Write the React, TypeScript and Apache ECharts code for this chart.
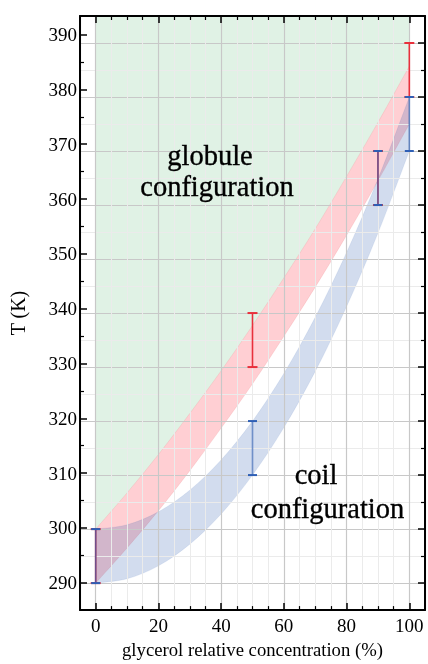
import React, { useEffect, useRef } from 'react';
import * as echarts from 'echarts';

// glycerol relative concentration (%) sample positions along the bands
const concentration = [0, 10, 20, 30, 40, 50, 60, 70, 80, 90, 100];
// globule / coil transition band (red)
const globuleLower = [290, 296.5, 303.4, 310.8, 318.7, 326.9, 335.7, 344.8, 354.4, 364.5, 375.0];
const globuleUpper = [300, 306.7, 313.8, 321.4, 329.3, 337.7, 346.5, 355.6, 365.3, 375.3, 385.7];
// coil band (blue)
const coilLower = [290, 290.8, 293.2, 297.2, 302.8, 310.0, 318.8, 329.2, 341.2, 354.8, 370.0];
const coilUpper = [300, 300.8, 303.2, 307.2, 312.8, 320.0, 328.8, 339.2, 351.2, 364.8, 380.0];

// error bars
const barX = [0, 50, 90, 100];
const globuleBarLow = [290, 330, 360, 380];
const globuleBarHigh = [300, 340, 370, 390];
const coilBarLow = [290, 310, 360, 370];
const coilBarHigh = [300, 320, 370, 380];

const SERIF = "'Liberation Serif', 'Times New Roman', Times, serif";

type P = number[];
function curveThrough(ctx: any, p: P[]) {
  for (let i = 0; i < p.length - 1; i++) {
    const p0 = p[i - 1] || p[i];
    const p1 = p[i];
    const p2 = p[i + 1];
    const p3 = p[i + 2] || p[i + 1];
    const c1x = p1[0] + (p2[0] - p0[0]) / 6;
    const c1y = p1[1] + (p2[1] - p0[1]) / 6;
    const c2x = p2[0] - (p3[0] - p1[0]) / 6;
    const c2y = p2[1] - (p3[1] - p1[1]) / 6;
    ctx.bezierCurveTo(c1x, c1y, c2x, c2y, p2[0], p2[1]);
  }
}

let registered = false;
function registerBand() {
  if (registered) return;
  registered = true;
  const Band = (echarts.graphic as any).extendShape({
    shape: { upper: [] as P[], lower: [] as P[] },
    buildPath(ctx: any, shape: any) {
      const up: P[] = shape.upper;
      const lo: P[] = shape.lower.slice().reverse();
      if (!up.length || !lo.length) return;
      ctx.moveTo(up[0][0], up[0][1]);
      curveThrough(ctx, up);
      ctx.lineTo(lo[0][0], lo[0][1]);
      curveThrough(ctx, lo);
      ctx.closePath();
    },
  });
  (echarts.graphic as any).registerShape('band', Band);
}

export default function App() {
  const ref = useRef<HTMLDivElement>(null);

  useEffect(() => {
    registerBand();
    const chart = echarts.init(ref.current as HTMLDivElement, null, { renderer: 'svg' });

    const bars = (lo: number[], hi: number[]) => barX.map((x, i) => [x, lo[i], hi[i]]);
    const bandData = (lo: number[], hi: number[]) => concentration.map((x, i) => [x, lo[i], hi[i]]);

    const axisLine = { show: true, onZero: false, lineStyle: { color: '#000', width: 2 } };
    const tick = { show: true, inside: true, length: 7, lineStyle: { color: '#000', width: 1.5 } };
    const minor = (n: number) => ({ show: true, splitNumber: n, length: 4, lineStyle: { color: '#000', width: 1.2 } });
    const majorGrid = { show: true, lineStyle: { color: '#c8c8c8', width: 1.2 } };
    const minorGrid = { show: true, lineStyle: { color: '#ebebeb', width: 1 } };
    const labelStyle = { fontSize: 19, color: '#000', fontFamily: SERIF };

    // band between lower/upper curves (mode 'band'), or from the curve up to the top of the plot (mode 'above')
    const bandRender = (lo: number[], hi: number[], fill: string, stroke: string, mode: 'band' | 'above') =>
      (params: any, api: any) => {
        if (params.dataIndex !== 0) return { type: 'group', children: [] };
        const upper: P[] = [];
        const lower: P[] = [];
        const top = params.coordSys.y;
        concentration.forEach((x, i) => {
          const u = api.coord([x, hi[i]]);
          if (mode === 'above') {
            lower.push(u);
            upper.push([u[0], top]);
          } else {
            upper.push(u);
            lower.push(api.coord([x, lo[i]]));
          }
        });
        if (mode === 'above') {
          return {
            type: 'band',
            shape: { upper: [upper[0], upper[upper.length - 1]], lower },
            style: { fill, stroke, lineWidth: 0.8 },
          };
        }
        return { type: 'band', shape: { upper, lower }, style: { fill, stroke, lineWidth: 0.8 } };
      };

    const errorRender = (lineColor: string, capColor: string, half: number) => (params: any, api: any) => {
      const x = api.value(0);
      const a = api.coord([x, api.value(1)]);
      const b = api.coord([x, api.value(2)]);
      return {
        type: 'group',
        children: [
          { type: 'line', shape: { x1: a[0], y1: a[1], x2: b[0], y2: b[1] }, style: { stroke: lineColor, lineWidth: 1.6 } },
          { type: 'line', shape: { x1: a[0] - half, y1: a[1], x2: a[0] + half, y2: a[1] }, style: { stroke: capColor, lineWidth: 2 } },
          { type: 'line', shape: { x1: b[0] - half, y1: b[1], x2: b[0] + half, y2: b[1] }, style: { stroke: capColor, lineWidth: 2 } },
        ],
      };
    };

    chart.setOption({
      animation: false,
      grid: { left: 79, top: 16, width: 348, height: 600, show: false },
      xAxis: [
        {
          type: 'value', min: -5, max: 105, splitNumber: 5, position: 'bottom', z: 3,
          axisLine, axisTick: tick, minorTick: minor(4),
          axisLabel: { ...labelStyle, margin: 6, formatter: (v: number) => (v % 20 === 0 ? String(v) : '') },
          splitLine: majorGrid, minorSplitLine: minorGrid,
          name: 'glycerol relative concentration (%)', nameLocation: 'middle', nameGap: 27,
          nameTextStyle: { ...labelStyle, fontSize: 18.7 },
        },
        {
          type: 'value', min: -5, max: 105, splitNumber: 5, position: 'top', z: 3,
          axisLine, axisTick: tick, minorTick: minor(4),
          axisLabel: { show: false }, splitLine: { show: false },
        },
      ],
      yAxis: [
        {
          type: 'value', min: 285, max: 395, splitNumber: 10, position: 'right', z: 3,
          axisLine, axisTick: tick, minorTick: minor(2),
          axisLabel: { show: false },
          splitLine: majorGrid, minorSplitLine: minorGrid,
        },
        {
          type: 'value', min: 285, max: 393.4, splitNumber: 10, position: 'left', z: 3,
          axisLine, axisTick: tick, minorTick: minor(2),
          axisLabel: { ...labelStyle, margin: 3, showMinLabel: false, showMaxLabel: false, formatter: (v: number) => (v % 10 === 0 ? String(v) : '') },
          splitLine: { show: false },
          name: 'T (K)', nameLocation: 'middle', nameGap: 52, nameRotate: 90,
          nameTextStyle: { ...labelStyle, fontSize: 20 },
        },
      ],
      series: [
        {
          type: 'custom', name: 'globule region', data: bandData(globuleLower, globuleUpper), encode: { x: 0, y: [1, 2] },
          renderItem: bandRender(globuleLower, globuleUpper, 'rgba(100,190,125,0.2)', 'rgba(100,190,125,0)', 'above'),
          z: 1, silent: true,
        },
        {
          type: 'custom', name: 'globule band', data: bandData(globuleLower, globuleUpper), encode: { x: 0, y: [1, 2] },
          renderItem: bandRender(globuleLower, globuleUpper, 'rgba(255,0,20,0.19)', 'rgba(220,60,70,0.15)', 'band'),
          z: 1, silent: true,
        },
        {
          type: 'custom', name: 'coil band', data: bandData(coilLower, coilUpper), encode: { x: 0, y: [1, 2] },
          renderItem: bandRender(coilLower, coilUpper, 'rgba(30,80,170,0.2)', 'rgba(30,80,170,0.1)', 'band'),
          z: 2, silent: true,
        },
        {
          type: 'custom', name: 'globule bars', data: bars(globuleBarLow, globuleBarHigh), encode: { x: 0, y: [1, 2] },
          renderItem: errorRender('#e8303c', '#e8303c', 5), z: 5, silent: true,
        },
        {
          type: 'custom', name: 'coil bars', data: bars(coilBarLow, coilBarHigh), encode: { x: 0, y: [1, 2] },
          renderItem: errorRender('rgba(46,95,181,0.65)', '#2e5fb5', 4.5), z: 6, silent: true,
        },
      ],
      graphic: [
        { type: 'text', x: 210, y: 155.5, z: 10, style: { text: 'globule', fontSize: 28.5, fontFamily: SERIF, fill: '#000', stroke: '#000', lineWidth: 0.35, align: 'center', verticalAlign: 'middle' } },
        { type: 'text', x: 217, y: 186.5, z: 10, style: { text: 'configuration', fontSize: 28.5, fontFamily: SERIF, fill: '#000', stroke: '#000', lineWidth: 0.35, align: 'center', verticalAlign: 'middle' } },
        { type: 'text', x: 316, y: 474.5, z: 10, style: { text: 'coil', fontSize: 28.5, fontFamily: SERIF, fill: '#000', stroke: '#000', lineWidth: 0.35, align: 'center', verticalAlign: 'middle' } },
        { type: 'text', x: 327.5, y: 508.5, z: 10, style: { text: 'configuration', fontSize: 28.5, fontFamily: SERIF, fill: '#000', stroke: '#000', lineWidth: 0.35, align: 'center', verticalAlign: 'middle' } },
      ],
    });

    return () => chart.dispose();
  }, []);

  return <div ref={ref} style={{ position: 'fixed', left: 0, top: 0, width: 428, height: 664 }} />;
}
